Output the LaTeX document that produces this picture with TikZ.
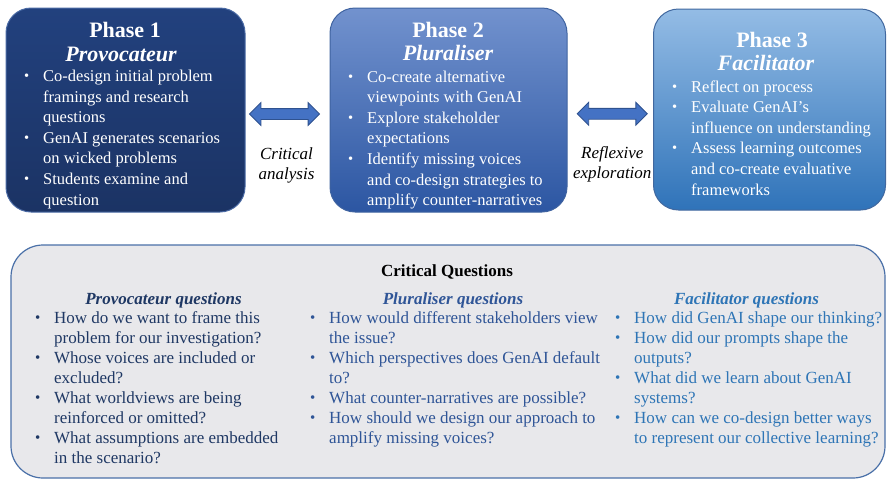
\documentclass[tikz,border=0pt]{standalone}
\usepackage{fontspec}
\setmainfont{Liberation Serif}
\usetikzlibrary{shapes.arrows,calc}
\definecolor{ponetop}{HTML}{22417E}
\definecolor{ponebot}{HTML}{1B3364}
\definecolor{poneedge}{HTML}{4A6AA4}
\definecolor{ptwotop}{HTML}{7292CE}
\definecolor{ptwomid}{HTML}{3962AE}
\definecolor{ptwobot}{HTML}{2C56A2}
\definecolor{ptwoedge}{HTML}{3F63A0}
\definecolor{pthrtop}{HTML}{94BCE5}
\definecolor{pthrmid}{HTML}{4C89CA}
\definecolor{pthrbot}{HTML}{2F73B9}
\definecolor{pthredge}{HTML}{41689F}
\definecolor{arrfill}{HTML}{4472C4}
\definecolor{arredge}{HTML}{2F528F}
\definecolor{cqfill}{HTML}{E8E8EB}
\definecolor{cqedge}{HTML}{4A70A8}
\definecolor{qone}{HTML}{1F3864}
\definecolor{qtwo}{HTML}{2F5597}
\definecolor{qthr}{HTML}{2E75B6}
\newcommand{\bodyfnt}{\fontsize{16.5}{20.6}\selectfont}
\newcommand{\qfnt}{\fontsize{17}{20}\selectfont}
\newcommand{\ttlfnt}{\fontsize{22}{24}\selectfont\bfseries}
\newcommand{\bu}{\makebox[19pt][l]{\raisebox{0.06em}{\scalebox{0.88}{\textbullet}}}}
\begin{document}
\begin{tikzpicture}[x=1pt,y=-1pt,
  phasebox/.style={rounded corners=25pt, line width=1pt, inner sep=0pt},
  dblarrow/.style={double arrow, fill=arrfill, draw=arredge, line width=0.8pt,
     minimum height=70pt, inner xsep=0pt, inner ysep=5pt,
     double arrow head extend=6pt, minimum width=22pt},
  ttl/.style={anchor=base, text=white, font=\ttlfnt, inner sep=0pt},
  body/.style={anchor=base west, text=white, font=\bodyfnt, inner sep=0pt},
  lbl/.style={align=center, font=\fontsize{17}{20}\selectfont\itshape, inner sep=0pt},
  qbody/.style={anchor=base west, font=\qfnt, inner sep=0pt},
  qhead/.style={anchor=base, font=\qfnt\bfseries\itshape, inner sep=0pt}]
\useasboundingbox (0,0) rectangle (887,480);

% phase boxes
\node[phasebox, top color=ponetop, bottom color=ponebot, draw=poneedge,
  minimum width=239pt, minimum height=204pt] (p1) at (125.5,110) {};
\node[phasebox, top color=ptwotop, middle color=ptwomid, bottom color=ptwobot, draw=ptwoedge,
  minimum width=237pt, minimum height=204pt] (p2) at (448.5,110) {};
\node[phasebox, top color=pthrtop, middle color=pthrmid, bottom color=pthrbot, draw=pthredge,
  minimum width=232pt, minimum height=201pt] (p3) at (769.5,109.5) {};

% titles
\node[ttl] (p1a) at (125,37) {Phase 1};
\node[ttl, font=\ttlfnt\itshape] (p1b) at (121,61.5) {Provocateur};
\node[ttl] (p2a) at (448,37) {Phase 2};
\node[ttl, font=\ttlfnt\itshape] (p2b) at (448,60.5) {Pluraliser};
\node[ttl] (p3a) at (772,47) {Phase 3};
\node[ttl, font=\ttlfnt\itshape] (p3b) at (766,70) {Facilitator};

% bodies
\node[body] (p1c) at (24,81.5) {\begin{tabular}[t]{@{}l@{}l@{}}
\bu & Co-design initial problem\\
 & framings and research\\
 & questions\\
\bu & GenAI generates scenarios\\
 & on wicked problems\\
\bu & Students examine and\\
 & question
\end{tabular}};
\node[body] (p2c) at (348,82) {\begin{tabular}[t]{@{}l@{}l@{}}
\bu & Co-create alternative\\
 & viewpoints with GenAI\\
\bu & Explore stakeholder\\
 & expectations\\
\bu & Identify missing voices\\
 & and co-design strategies to\\
 & amplify counter-narratives
\end{tabular}};
\node[body] (p3c) at (672,92) {\begin{tabular}[t]{@{}l@{}l@{}}
\bu & Reflect on process\\
\bu & Evaluate GenAI’s\\
 & influence on understanding\\
\bu & Assess learning outcomes\\
 & and co-create evaluative\\
 & frameworks
\end{tabular}};

% arrows between phases
\node[dblarrow] (a12) at ($(p1.east)!0.5!(p2.west)+(-3,4)$) {};
\node[dblarrow] (a23) at ($(p2.east)!0.5!(p3.west)+(2,4)$) {};
\node[lbl] (l12) at ($(a12)+(2,51)$) {Critical\\analysis};
\node[lbl] (l23) at ($(a23)+(0,51)$) {Reflexive\\exploration};

% critical questions box
\node[rounded corners=32pt, fill=cqfill, draw=cqedge, line width=1.2pt,
  minimum width=874pt, minimum height=233pt, inner sep=0pt] (cq) at (448,361.5) {};
\node[anchor=base, font=\qfnt\bfseries, inner sep=0pt] (cqt) at (447,276) {Critical Questions};

\node[qhead, text=qone] (h1) at (163.5,304) {Provocateur questions};
\node[qhead, text=qtwo] (h2) at (453,304) {Pluraliser questions};
\node[qhead, text=qthr] (h3) at (746.5,304) {Facilitator questions};

\node[qbody, text=qone] (q1) at (35,323.5) {\begin{tabular}[t]{@{}l@{}l@{}}
\bu & How do we want to frame this\\
 & problem for our investigation?\\
\bu & Whose voices are included or\\
 & excluded?\\
\bu & What worldviews are being\\
 & reinforced or omitted?\\
\bu & What assumptions are embedded\\
 & in the scenario?
\end{tabular}};
\node[qbody, text=qtwo] (q2) at (310,323.5) {\begin{tabular}[t]{@{}l@{}l@{}}
\bu & How would different stakeholders view\\
 & the issue?\\
\bu & Which perspectives does GenAI default\\
 & to?\\
\bu & What counter-narratives are possible?\\
\bu & How should we design our approach to\\
 & amplify missing voices?
\end{tabular}};
\node[qbody, text=qthr] (q3) at (615,323.5) {\begin{tabular}[t]{@{}l@{}l@{}}
\bu & How did GenAI shape our thinking?\\
\bu & How did our prompts shape the\\
 & outputs?\\
\bu & What did we learn about GenAI\\
 & systems?\\
\bu & How can we co-design better ways\\
 & to represent our collective learning?
\end{tabular}};
\end{tikzpicture}
\end{document}
